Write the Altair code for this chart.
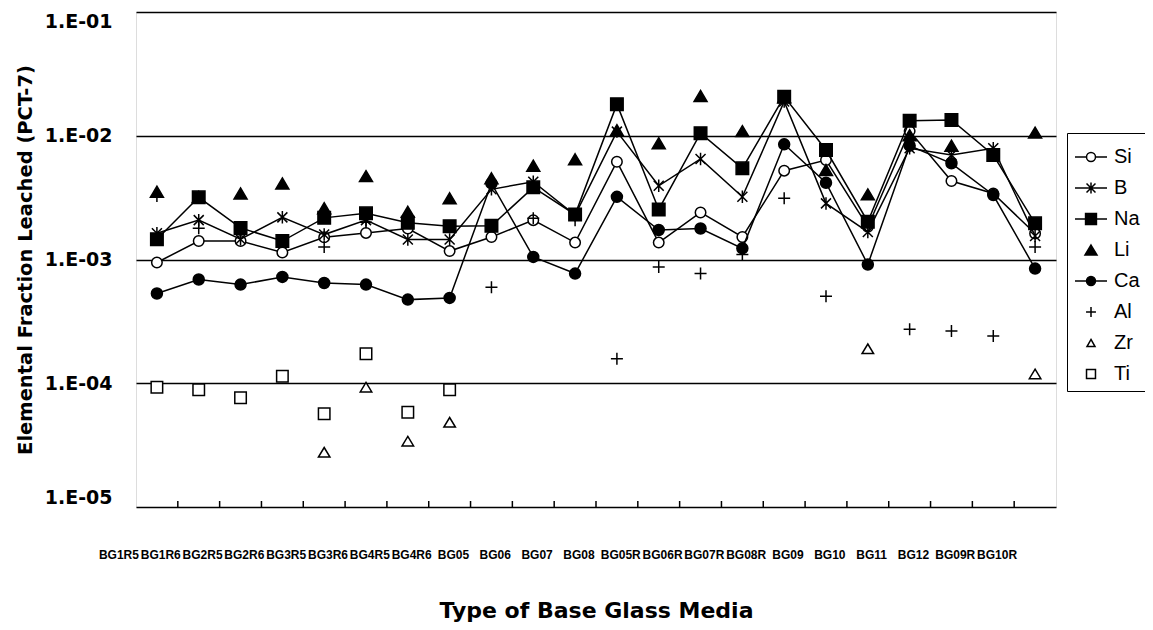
import altair as alt
import pandas as pd

glass = ["BG1R5", "BG1R6", "BG2R5", "BG2R6", "BG3R5", "BG3R6", "BG4R5", "BG4R6",
         "BG05", "BG06", "BG07", "BG08", "BG05R", "BG06R", "BG07R", "BG08R",
         "BG09", "BG10", "BG11", "BG12", "BG09R", "BG10R"]
elements = ["Si", "B", "Na", "Li", "Ca", "Al", "Zr", "Ti"]

si = [9.46e-4, 1.41e-3, 1.41e-3, 1.14e-3, 1.51e-3, 1.64e-3, 1.78e-3, 1.17e-3,
      1.52e-3, 2.08e-3, 1.37e-3, 6.17e-3, 1.37e-3, 2.40e-3, 1.52e-3, 5.22e-3,
      6.37e-3, 1.84e-3, 1.09e-2, 4.31e-3, 3.42e-3, 1.62e-3]
b = [1.63e-3, 2.08e-3, 1.46e-3, 2.19e-3, 1.59e-3, 2.08e-3, 1.45e-3, 1.45e-3,
     3.69e-3, 4.25e-3, 2.28e-3, 1.08e-2, 3.94e-3, 6.49e-3, 3.21e-3, 1.89e-2,
     2.84e-3, 1.67e-3, 7.92e-3, 6.99e-3, 7.92e-3, 1.55e-3]
na = [1.46e-3, 3.18e-3, 1.80e-3, 1.41e-3, 2.17e-3, 2.36e-3, 1.98e-3, 1.86e-3,
      1.87e-3, 3.83e-3, 2.31e-3, 1.80e-2, 2.54e-3, 1.05e-2, 5.45e-3, 2.07e-2,
      7.67e-3, 2.02e-3, 1.32e-2, 1.34e-2, 6.99e-3, 1.96e-3]
li = [3.53e-3, 3.20e-3, 3.42e-3, 4.12e-3, 2.60e-3, 4.72e-3, 2.43e-3, 3.12e-3,
      4.53e-3, 5.73e-3, 6.45e-3, 1.11e-2, 8.70e-3, 2.10e-2, 1.09e-2, 2.05e-2,
      5.28e-3, 3.36e-3, 1.01e-2, 8.31e-3, None, 1.06e-2]
ca = [5.31e-4, 6.89e-4, 6.27e-4, 7.23e-4, 6.46e-4, 6.27e-4, 4.74e-4, 4.89e-4,
      4.12e-3, 1.05e-3, 7.70e-4, 3.21e-3, 1.73e-3, 1.78e-3, 1.23e-3, 8.53e-3,
      4.17e-3, 9.11e-4, 8.31e-3, 5.99e-3, 3.32e-3, 8.45e-4]
al = [3.26e-3, 1.79e-3, None, None, 1.26e-3, 2.00e-3, None, None,
      5.97e-4, 2.15e-3, 2.08e-3, 1.58e-4, 8.71e-4, 7.70e-4, 1.10e-3, 3.12e-3,
      5.04e-4, None, 2.73e-4, 2.64e-4, 2.41e-4, 1.26e-3]
zr = [None, None, None, None, 2.77e-5, 9.30e-5, 3.40e-5, 4.84e-5,
      None, None, None, None, None, None, None, None,
      None, 1.90e-4, None, None, None, 1.19e-4]
ti = [9.30e-5, 8.86e-5, 7.63e-5, 1.14e-4, 5.66e-5, 1.73e-4, 5.83e-5, 8.86e-5,
      None, None, None, None, None, None, None, None,
      None, None, None, None, None, None]

series = {"Si": si, "B": b, "Na": na, "Li": li, "Ca": ca, "Al": al, "Zr": zr, "Ti": ti}
line_elements = ["Si", "B", "Na", "Ca"]

rows = []
for el in elements:
    for g, v in zip(glass, series[el]):
        if v is not None:
            rows.append({"glass": g, "element": el, "value": v})
df = pd.DataFrame(rows)

W, H = 920, 495


def f(v):
    return f"{v:.4f}".rstrip("0").rstrip(".") if v != 0 else "0"


def circ(r):
    k = 0.5523 * r
    return (f"M{f(r)},0C{f(r)},{f(k)} {f(k)},{f(r)} 0,{f(r)}"
            f"C{f(-k)},{f(r)} {f(-r)},{f(k)} {f(-r)},0"
            f"C{f(-r)},{f(-k)} {f(-k)},{f(-r)} 0,{f(-r)}"
            f"C{f(k)},{f(-r)} {f(r)},{f(-k)} {f(r)},0Z")


def sq(h):
    return f"M{f(-h)},{f(-h)}L{f(h)},{f(-h)}L{f(h)},{f(h)}L{f(-h)},{f(h)}Z"


def tri(w, h):
    return f"M0,{f(-h)}L{f(w)},{f(h)}L{f(-w)},{f(h)}Z"


def star(a, v):
    return (f"M{f(-a)},{f(-a)}L{f(a)},{f(a)}M{f(-a)},{f(a)}L{f(a)},{f(-a)}"
            f"M0,{f(-v)}L0,{f(v)}")


def plus(a):
    return f"M{f(-a)},0L{f(a)},0M0,{f(-a)}L0,{f(a)}"


# data marker styles (size 100 -> 1 unit = 5 px)
marker = {
    "Si": (circ(1.05), "white"),
    "B": (star(1.0, 1.25), "transparent"),
    "Na": (sq(1.25), "black"),
    "Li": (tri(1.3, 1.1), "black"),
    "Ca": (circ(1.1), "black"),
    "Al": (plus(1.2), "transparent"),
    "Zr": (tri(1.15, 0.95), "white"),
    "Ti": (sq(1.15), "white"),
}

# legend symbols (size 1024 -> 1 unit = 16 px), connecting line included
leg_line = "M-1,0L1,0"
legend_paths = [
    "M-1,0L-0.28,0M0.28,0L1,0" + circ(0.28),
    leg_line + star(0.28, 0.34),
    leg_line + sq(0.34),
    tri(0.375, 0.31),
    leg_line + circ(0.28),
    plus(0.31),
    tri(0.25, 0.22),
    sq(0.28),
]
legend_fills = ["white", "white", "black", "black", "black", "white", "white", "white"]

x_scale = alt.Scale(type="band", domain=glass, paddingInner=0, paddingOuter=0)
x_axis = alt.Axis(
    labels=False, ticks=False, domain=False, grid=False,
    titleY=110, titleBaseline="alphabetic",
    titleFont="DejaVu Sans", titleFontWeight="bold", titleFontSize=22,
    titleColor="black",
)
X_TITLE = "Type of Base Glass Media"


def xenc(**kw):
    return alt.X("glass:N", scale=x_scale, axis=x_axis, title=X_TITLE, **kw)


y_enc = alt.Y(
    "value:Q",
    scale=alt.Scale(type="log", domain=[1e-5, 1e-1], nice=False),
    axis=alt.Axis(
        values=[1e-5, 1e-4, 1e-3, 1e-2, 1e-1],
        labelExpr="'1.E-0' + round(-log(datum.value) / LN10)",
        grid=True, gridColor="black", gridWidth=1.5, gridOpacity=1,
        ticks=False, domain=False, labelFlush=True,
        labelFont="DejaVu Sans", labelFontWeight="bold", labelFontSize=19,
        labelColor="black", labelPadding=24,
        titleFont="DejaVu Sans", titleFontWeight="bold", titleFontSize=19.5,
        titleColor="black", titleX=-105, titleBaseline="alphabetic",
    ),
    title="Elemental Fraction Leached (PCT-7)",
)

base = alt.Chart(df)
layers = []

for el in elements:
    sub = base.transform_filter(alt.datum.element == el)
    if el in line_elements:
        layers.append(
            sub.mark_line(color="black", strokeWidth=1.5).encode(x=xenc(), y=y_enc)
        )
    path, fill = marker[el]
    layers.append(
        sub.mark_point(shape=path, fill=fill, stroke="black", strokeWidth=1.5,
                       size=100, opacity=1).encode(x=xenc(), y=y_enc)
    )

# category boundary tick marks (inside, at bottom)
ticks_df = pd.DataFrame({"glass": glass[1:]})
layers.append(
    alt.Chart(ticks_df).mark_rule(color="black", strokeWidth=1.5).encode(
        x=xenc(bandPosition=0), y=alt.value(H - 6), y2=alt.value(H)
    )
)

# category labels (placed where the reference's slanted labels sit)
labels_df = pd.DataFrame({"glass": glass})
layers.append(
    alt.Chart(labels_df).mark_text(
        align="center", baseline="middle",
        font="Liberation Sans", fontWeight="bold", fontSize=12, color="black",
        xOffset=-38,
    ).encode(x=xenc(), y=alt.value(H + 48), text="glass:N")
)

legend_df = pd.DataFrame({"glass": [glass[0]] * len(elements),
                          "element": elements,
                          "value": [1e-3] * len(elements)})
legend_def = alt.Legend(
    title=None, orient="none", legendX=931, legendY=121,
    symbolSize=1024, symbolStrokeColor="black", symbolStrokeWidth=1.5,
    symbolOpacity=1,
    labelFont="Liberation Sans", labelFontSize=20, labelColor="black",
    labelOffset=6, padding=7, rowPadding=4,
    strokeColor="black", fillColor="white",
)
layers.append(
    alt.Chart(legend_df).mark_point(opacity=0, strokeWidth=1.5).encode(
        x=xenc(), y=y_enc,
        shape=alt.Shape("element:N", scale=alt.Scale(domain=elements, range=legend_paths),
                        legend=legend_def),
        fill=alt.Fill("element:N", scale=alt.Scale(domain=elements, range=legend_fills),
                      legend=legend_def),
        stroke=alt.Stroke("element:N", scale=alt.Scale(domain=elements, range=["black"] * 8),
                          legend=legend_def),
    )
)

chart = alt.layer(*layers).properties(
    width=W, height=H,
    padding={"left": 128, "top": 4, "right": 89, "bottom": 115},
    autosize=alt.AutoSizeParams(type="none"),
).configure_view(
    stroke="black", strokeWidth=1.5
).configure(background="white")

chart.save("out.html", embed_options={"renderer": "svg", "actions": False})
